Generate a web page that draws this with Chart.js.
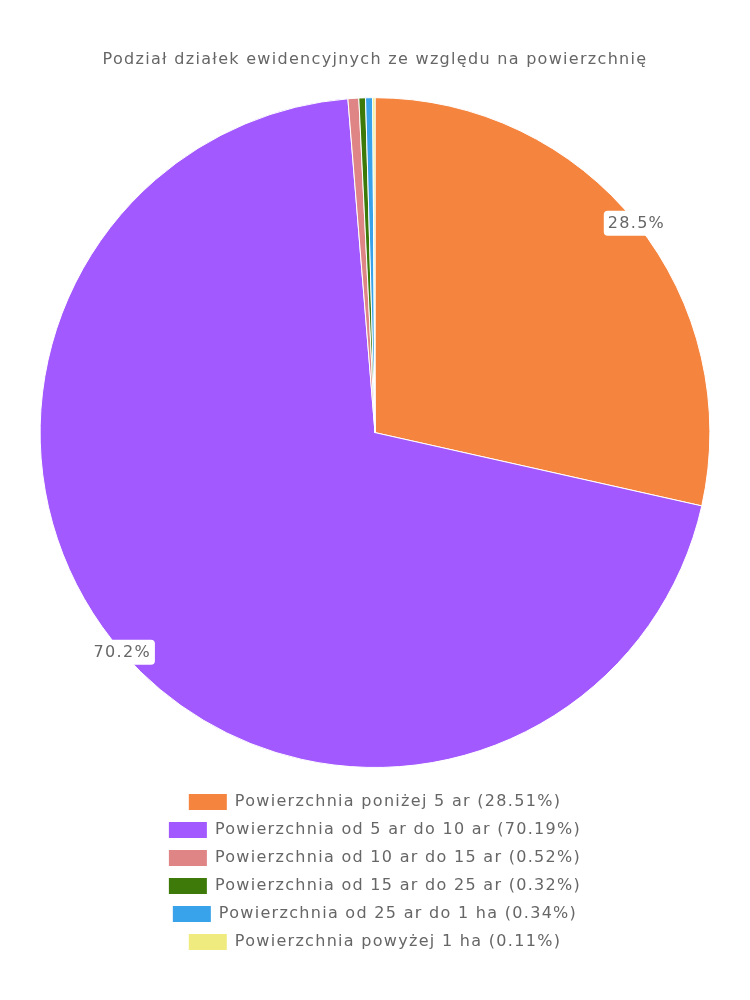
<!DOCTYPE html>
<html>
<head>
  <meta charset="utf-8">
  <title>Podział działek</title>
  <script src="https://cdn.jsdelivr.net/npm/chart.js"></script>
  <style>
    html, body { margin: 0; padding: 0; background: #fff; }
    #wrap { width: 750px; height: 1000px; }
  </style>
</head>
<body>
<div id="wrap"><canvas id="pieChart"></canvas></div>
<script>
// data
const categories = [
  'Powierzchnia poniżej 5 ar',
  'Powierzchnia od 5 ar do 10 ar',
  'Powierzchnia od 10 ar do 15 ar',
  'Powierzchnia od 15 ar do 25 ar',
  'Powierzchnia od 25 ar do 1 ha',
  'Powierzchnia powyżej 1 ha'
];
const shares = [28.51, 70.19, 0.52, 0.32, 0.34, 0.11];
const sliceColors = ['#F5843F', '#A259FF', '#E08585', '#3D7A0A', '#38A2EA', '#EFEB7F'];
const chartTitle = 'Podział działek ewidencyjnych ze względu na powierzchnię';

const fontFamily = "'DejaVu Sans', sans-serif";
const spacing = '1.3px'; // the original font is a wide rounded one

// canvas state gets reset on resize, so set the spacing again before measuring / drawing
const wideText = {
  id: 'wideText',
  beforeUpdate(chart) { chart.ctx.letterSpacing = spacing; },
  beforeLayout(chart) { chart.ctx.letterSpacing = spacing; },
  beforeDraw(chart) { chart.ctx.letterSpacing = spacing; }
};

// labels on the outer edge of the big slices, white box behind
const edgeLabels = {
  id: 'edgeLabels',
  afterDatasetsDraw(chart) {
    const ctx = chart.ctx;
    const meta = chart.getDatasetMeta(0);
    ctx.save();
    ctx.font = '16px ' + fontFamily;
    ctx.textAlign = 'center';
    ctx.textBaseline = 'middle';
    meta.data.forEach((arc, i) => {
      const v = shares[i];
      if (v < 5) return;
      const mid = (arc.startAngle + arc.endAngle) / 2;
      const x = arc.x + Math.cos(mid) * arc.outerRadius;
      const y = arc.y + Math.sin(mid) * arc.outerRadius;
      const txt = v.toFixed(1) + '%';
      const w = ctx.measureText(txt).width + 8;
      const h = 25;
      ctx.fillStyle = '#fff';
      ctx.beginPath();
      ctx.roundRect(x - w / 2, y - h / 2, w, h, 4);
      ctx.fill();
      ctx.fillStyle = '#666';
      ctx.fillText(txt, x, y + 1);
    });
    ctx.restore();
  }
};

const ctx = document.getElementById('pieChart').getContext('2d');
new Chart(ctx, {
  type: 'pie',
  data: {
    labels: categories,
    datasets: [{
      data: shares,
      backgroundColor: sliceColors,
      borderColor: '#fff',
      borderWidth: 1
    }]
  },
  options: {
    responsive: true,
    maintainAspectRatio: false,
    animation: false,
    layout: { padding: { top: 40, bottom: 40, left: 10, right: 10 } },
    plugins: {
      title: {
        display: true,
        text: chartTitle,
        color: '#666',
        font: { family: fontFamily, size: 16, weight: 'normal' },
        padding: { top: 10, bottom: 28 }
      },
      legend: {
        position: 'bottom',
        // empty legend title, only used as a gap between pie and legend rows
        title: { display: true, text: '', font: { size: 10 }, padding: 1 },
        labels: {
          color: '#666',
          font: { family: fontFamily, size: 16 },
          boxWidth: 38,
          boxHeight: 16,
          padding: 12,
          generateLabels(chart) {
            return categories.map((c, i) => ({
              text: c + ' (' + shares[i].toFixed(2) + '%)',
              fillStyle: sliceColors[i],
              strokeStyle: sliceColors[i],
              lineWidth: 0,
              hidden: false,
              index: i
            }));
          }
        }
      },
      tooltip: { enabled: false }
    }
  },
  plugins: [wideText, edgeLabels]
});
</script>
</body>
</html>
